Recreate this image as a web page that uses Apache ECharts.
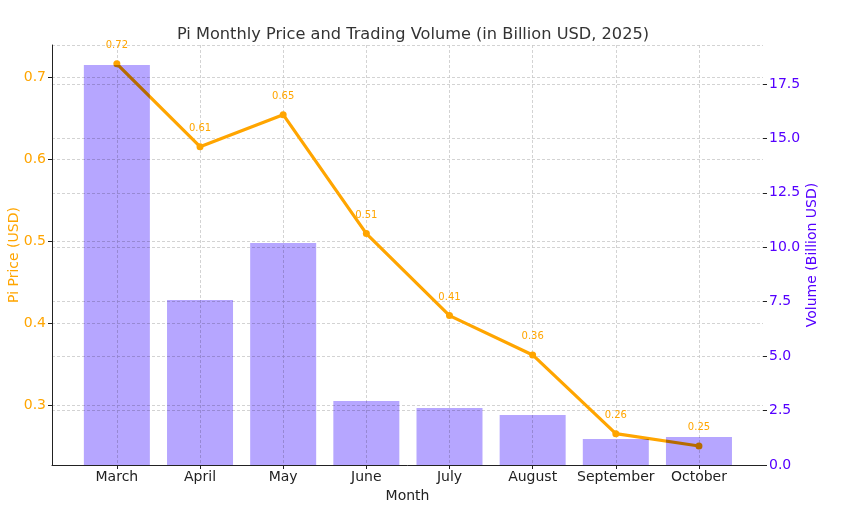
<!DOCTYPE html>
<html>
<head>
<meta charset="utf-8">
<script src="https://cdn.jsdelivr.net/npm/echarts@6/dist/echarts.min.js"></script>
<style>
  html, body { margin: 0; padding: 0; background: #fff; }
  #main { width: 846px; height: 513px; }
</style>
</head>
<body>
<div id="main"></div>
<script>
var months = ['March', 'April', 'May', 'June', 'July', 'August', 'September', 'October'];
var price = [0.716, 0.615, 0.654, 0.509, 0.409, 0.361, 0.265, 0.250];
var priceLabels = ['0.72', '0.61', '0.65', '0.51', '0.41', '0.36', '0.26', '0.25'];
var volume = [18.37, 7.58, 10.20, 2.94, 2.62, 2.30, 1.19, 1.29];
var priceTicks = [0.3, 0.4, 0.5, 0.6, 0.7];
var monthIdx = [0, 1, 2, 3, 4, 5, 6, 7];

var font = 'DejaVu Sans';
var gridLine = { show: true, lineStyle: { color: '#c8c8c8', width: 0.8, type: [3, 2] } };

var myChart = echarts.init(document.getElementById('main'));

var option = {
    animation: false,
    backgroundColor: '#fff',
    textStyle: { fontFamily: font },
    title: {
        text: 'Pi Monthly Price and Trading Volume (in Billion USD, 2025)',
        left: 408, top: 22, textAlign: 'center',
        textStyle: { fontFamily: font, fontSize: 16.2, fontWeight: 'normal', color: '#333' }
    },
    grid: { left: 52, right: 83, top: 45, bottom: 48, outerBoundsMode: 'none', containLabel: false },
    xAxis: {
        type: 'value',
        min: -0.78, max: 7.77,
        name: 'Month', nameLocation: 'middle', nameGap: 22,
        nameTextStyle: { fontFamily: font, fontSize: 14, color: '#222' },
        axisLine: { show: true, onZero: false, lineStyle: { color: '#222', width: 1 } },
        axisTick: { show: true, customValues: monthIdx, length: 4, lineStyle: { color: '#222' } },
        axisLabel: {
            customValues: monthIdx, fontFamily: font, fontSize: 14, color: '#222', margin: 5,
            formatter: function (v) { return months[Math.round(v)]; }
        },
        splitLine: gridLine
    },
    yAxis: [{
        type: 'value',
        min: 0.2268, max: 0.739,
        position: 'left',
        name: 'Pi Price (USD)', nameLocation: 'middle', nameGap: 38, nameRotate: 90,
        nameMoveOverlap: false,
        nameTextStyle: { fontFamily: font, fontSize: 14, color: '#ffa500', verticalAlign: 'middle' },
        axisLine: { show: true, onZero: false, lineStyle: { color: '#222', width: 1 } },
        axisTick: { show: true, customValues: priceTicks, length: 4, lineStyle: { color: '#222' } },
        axisLabel: {
            customValues: priceTicks, fontFamily: font, fontSize: 14, color: '#ffa500', margin: 6,
            formatter: function (v) { return v.toFixed(1); }
        },
        splitLine: gridLine
    }, {
        type: 'value',
        min: 0, max: 19.29, interval: 2.5,
        position: 'right',
        name: 'Volume (Billion USD)', nameLocation: 'middle', nameGap: 49, nameRotate: 90,
        nameMoveOverlap: false,
        nameTextStyle: { fontFamily: font, fontSize: 14, color: '#5500ff', verticalAlign: 'middle' },
        axisLine: { show: false, onZero: false },
        axisTick: { show: true, length: 4, lineStyle: { color: '#222' } },
        axisLabel: {
            fontFamily: font, fontSize: 14, color: '#5500ff', margin: 6,
            showMaxLabel: false,
            formatter: function (v) { return v.toFixed(1); }
        },
        splitLine: gridLine
    }],
    series: [{
        name: 'Pi Price',
        type: 'line',
        yAxisIndex: 0,
        z: 2,
        data: price.map(function (v, i) { return [i, v]; }),
        lineStyle: { color: '#ffa500', width: 3.2 },
        itemStyle: { color: '#ffa500' },
        symbol: 'circle', symbolSize: 7,
        label: {
            show: true, position: 'top', distance: 10,
            fontFamily: font, fontSize: 10, color: '#ffa500',
            formatter: function (p) { return priceLabels[p.dataIndex]; }
        }
    }, {
        name: 'Volume',
        type: 'bar',
        yAxisIndex: 1,
        z: 3,
        barWidth: 66,
        blendMode: 'multiply',
        data: volume.map(function (v, i) { return [i, v]; }),
        itemStyle: { color: '#b6a6ff' }
    }]
};

myChart.setOption(option);
</script>
</body>
</html>
